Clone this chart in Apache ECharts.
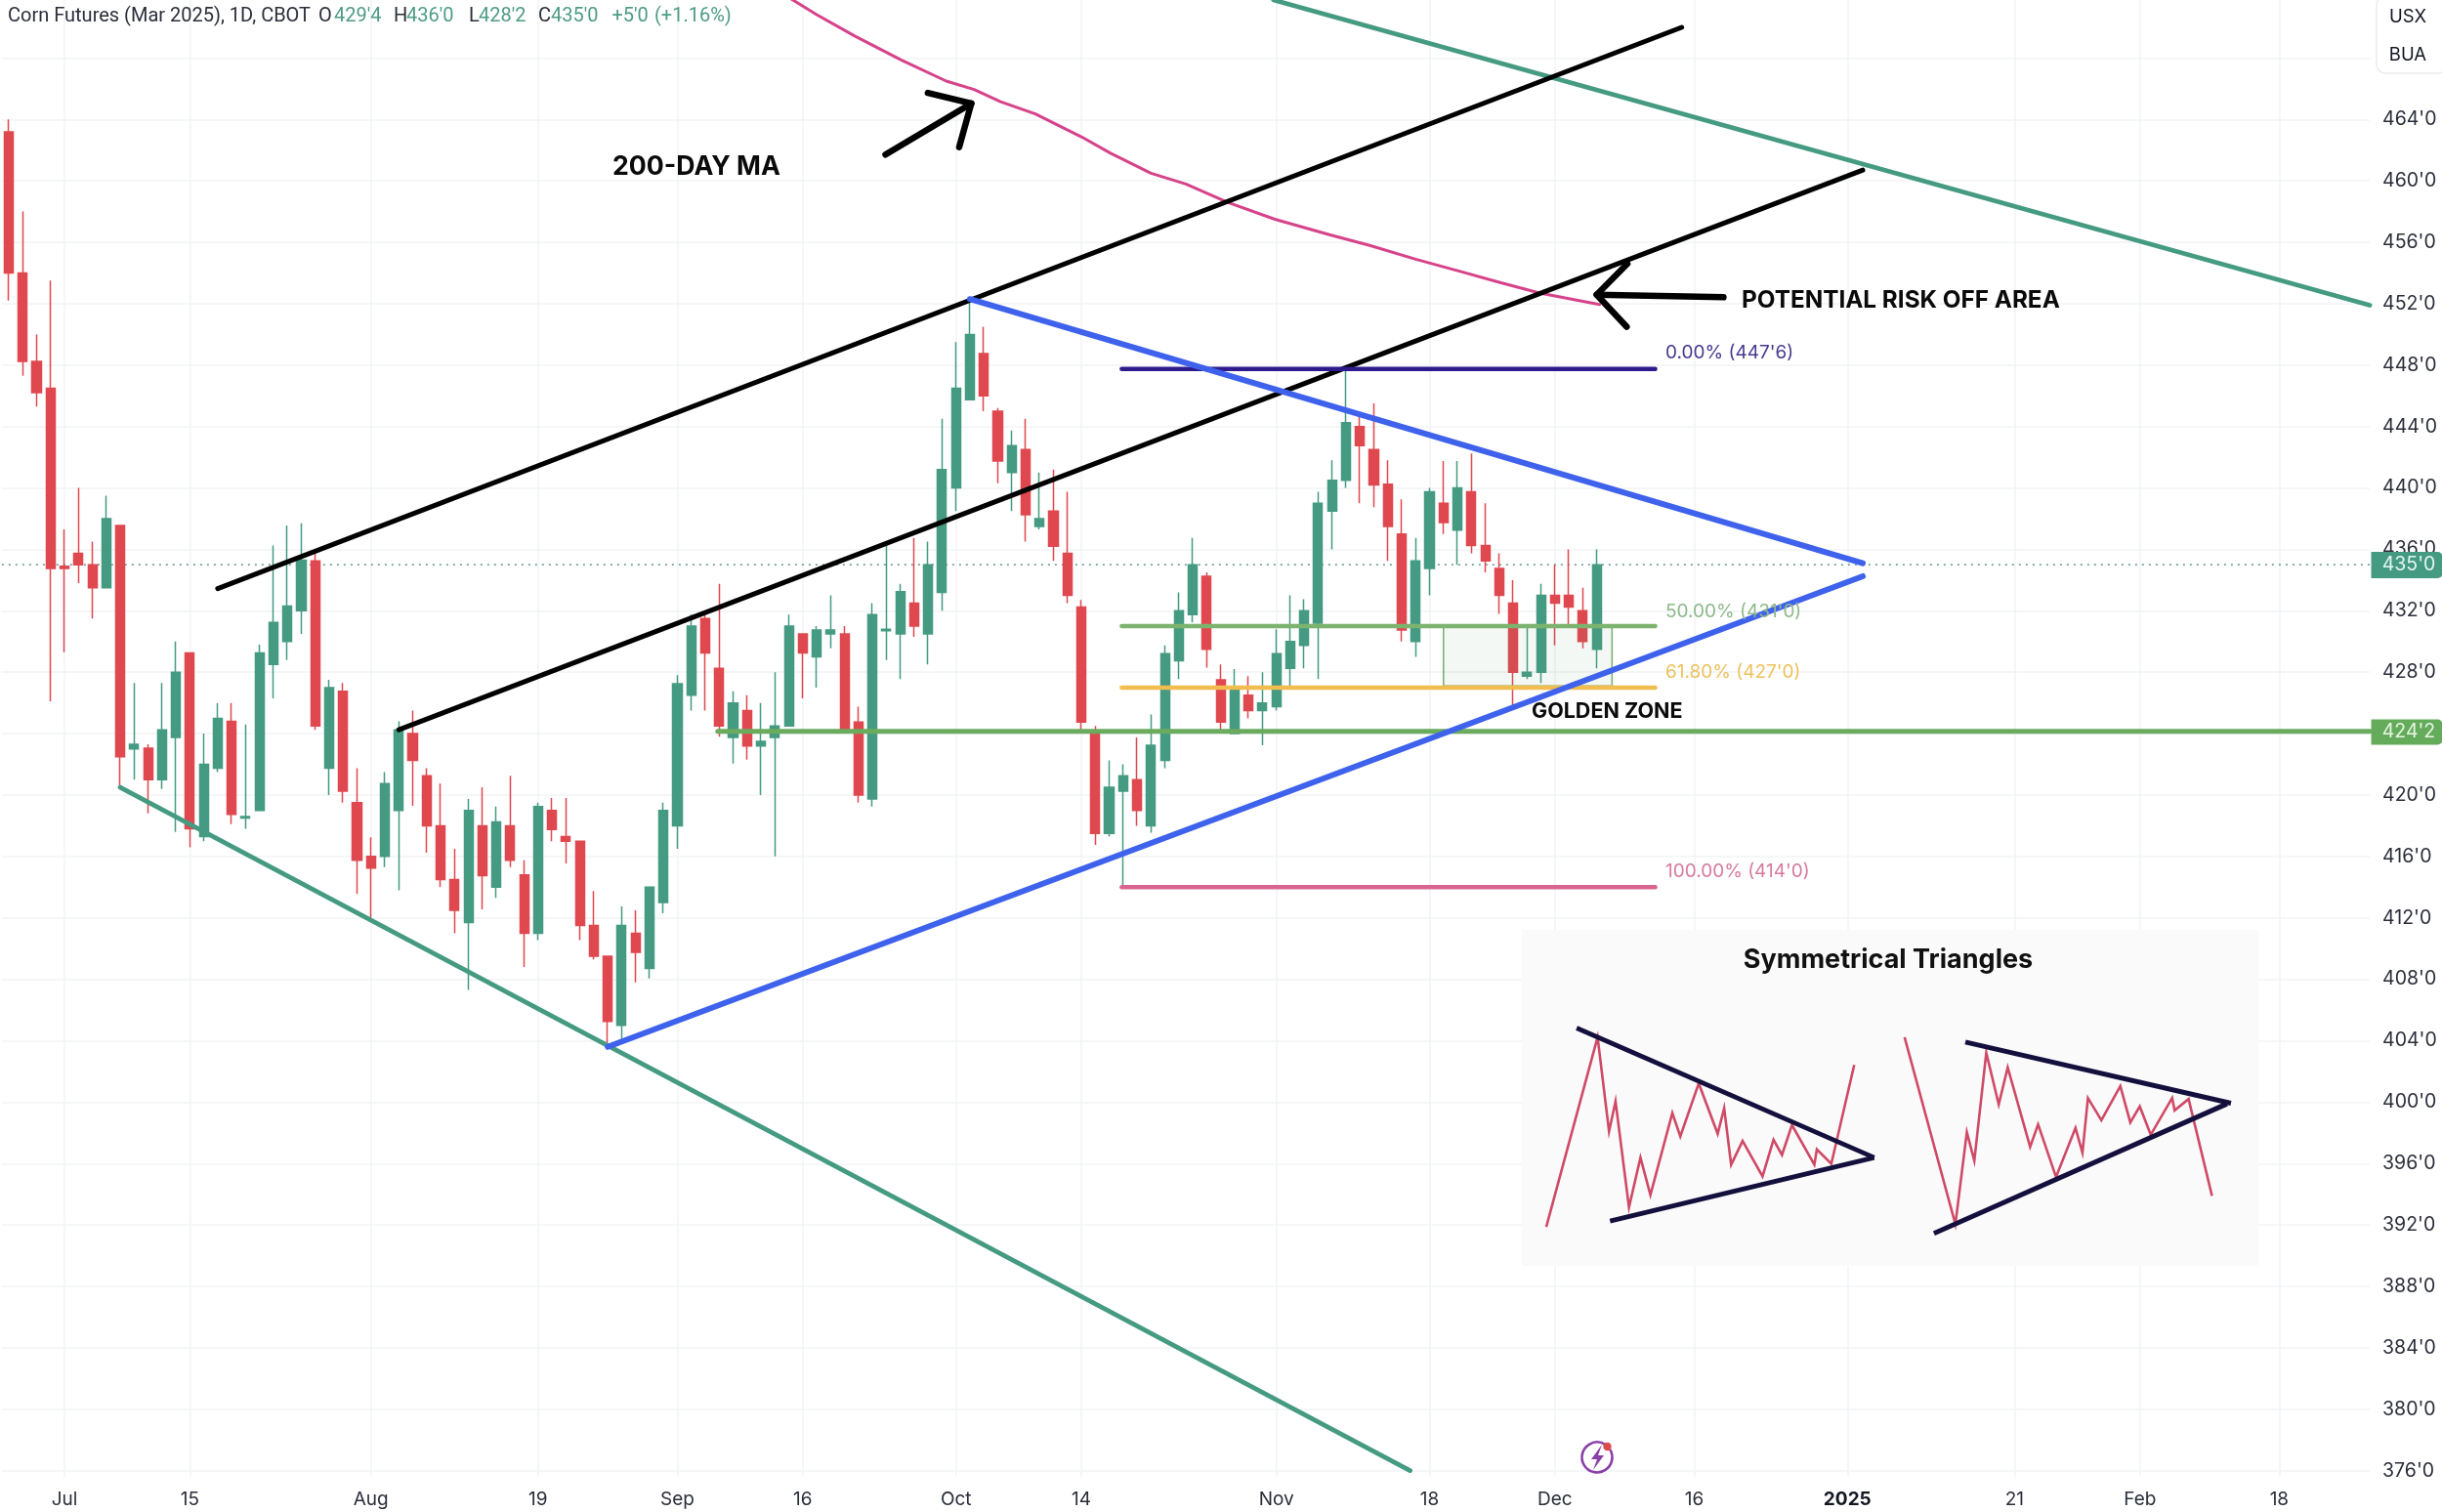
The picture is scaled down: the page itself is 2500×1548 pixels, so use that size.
<!DOCTYPE html>
<html><head><meta charset="utf-8">
<style>html,body{margin:0;padding:0;background:#fff}#c{width:2500px;height:1548px}</style>
<script src="https://cdn.jsdelivr.net/npm/echarts@6/dist/echarts.min.js"></script>
</head><body><div id="c"></div>
<script>
// ---- candles, one entry per trading bar ----
const opens=[463.2,454,448.25,446.5,434.9,435.75,435,433.5,437.55,423,423.05,421,423.75,429.25,417.3,421.75,424.8,418.5,419,428.5,430,432,435.25,421.75,426.75,419.5,416,416,419,424,421.25,418,414.5,411.7,418,414,418,414.8,411,419,417.3,417,411.5,409.5,405,411,408.7,413,418,426.5,431.5,428.25,423.75,425.5,423.2,423.75,424.5,430.5,429,430.5,430.5,424.75,419.75,430.7,430.5,432.5,430.5,433.2,440,445.75,448.75,445,441,442.5,437.5,438.5,435.75,432.25,424,417.5,420.25,421,418,422.25,428.75,431.75,434.25,427.5,424,426.5,425.5,425.75,428.25,429.75,431.2,438.5,440.5,444,442.5,440.25,437,430,434.75,439,437.25,439.75,436.25,434.75,432.5,427.75,428,433,433,432,429.5];
const closes=[454,448.25,446.2,434.75,434.75,435,433.5,438,422.5,423.3,421,424.25,428,417.8,422,425,418.75,418.6,429.25,431.25,432.3,435.3,424.5,427,420.25,415.75,415.25,420.75,424.25,422.25,418,414.5,412.5,419,414.75,418.25,415.75,411,419.25,417.75,417,411.5,409.5,405.25,411.5,409.75,414,419,427.25,431,429.25,424.5,426,423.2,423.5,424.5,431,429.25,430.75,430.75,424.2,420,431.75,430.8,433.25,431,435,441.2,446.5,450,446,441.75,442.75,438.25,438,436.2,433,424.75,417.5,420.5,421.25,419,423.25,429.2,432,435,429.5,424.75,427,425.5,426,429.2,430,432,439,440.5,444.25,442.75,440.2,437.5,430.75,435.25,439.75,437.75,440,436.25,435.25,433,428,428,433,432.5,432.25,430,435];
const highs=[464,458,450,453.5,437.3,440,436.5,439.5,437.55,427.3,423.3,427.3,430,429.25,424,426,426,424.6,429.8,436.25,437.55,437.7,435.75,427.5,427.3,421.75,417.25,421.5,424.8,425.5,421.75,420.75,416.5,419.75,420.5,419.25,421.25,415.75,419.5,419.8,419.8,417,413.75,409.5,412.75,412.5,414,419.5,427.8,431.75,431.75,433.75,426.75,426.5,426,428,431.75,430.5,431,433,431,425.75,432.5,436.5,433.75,436.75,436.5,444.5,449.5,452.3,450.5,445.2,443.75,444.5,441,441.2,439.75,432.7,424.5,422.25,422,423.75,425.25,429.75,433.2,436.75,434.5,428.5,428.2,427.75,428,430.8,433,432.75,439.75,441.8,447.75,445,445.5,441.8,439.25,436.75,440,441.75,441.75,442.25,439,435.75,434,430.9,433.75,435,436,433.5,436];
const lows=[452.2,447.3,445.3,426.1,429.3,433.8,431.5,433.5,420.5,421,418.8,420.4,417.6,416.6,417,421.5,418.1,417.8,419,426.3,428.8,430.5,424.25,420,419.5,413.55,412,415.3,413.8,419.3,416.25,414,411,407.3,412.55,413.3,415.3,408.8,410.55,417,415.55,410.55,409.3,403.5,404.1,407.8,408.05,412.3,416.5,425.5,425.5,423.8,422.05,422.3,420,416,424.5,426.3,427,429.55,424.2,419.5,419.25,428.8,427.55,430.3,428.5,432,438.5,445.75,445,440.3,438.5,436.5,437.3,435.25,432.5,424.25,416.75,417.3,414,418,417.55,421.75,427.55,431.25,428.3,424.25,424,425,423.25,425.5,427,428.25,427.55,436,440,439,438.75,435.25,430,429,433,437,435,435.75,434.5,431.8,425.6,427.55,427.3,429.75,430.9,429.55,428.25];

// ---- axis ticks ----
const barCount=170;
const timeTickBars=[4,13,26,38,48,57,68,77,91,102,111,121,132,144,153,163];
const timeTickLabels=['Jul','15','Aug','19','Sep','16','Oct','14','Nov','18','Dec','16','2025','21','Feb','18'];
const priceMin=376, priceMax=472, priceStep=4;

// ---- price levels ----
const lastPrice=435;
const fibStart=79.9, fibEnd=118.2;
const fib0=447.75, fib50=431, fib618=427, fib100=414;
const supportPrice=424.15;
const chartEnd=169.5;

// ---- drawn lines as [bar, price] ----
const tealUpper=[[90.8,471.78],[169.5,451.9]];
const tealLower=[[8,420.5],[100.6,376]];
const blackUpper=[[15,433.45],[120.1,470]];
const blackLower=[[28,424.25],[133.1,460.7]];
const blueLower=[[43,403.6],[133.1,434.25]];
const blueUpper=[[69,452.3],[133.1,435.1]];
const ma200=[[55.9,472],[58,470.83],[60.7,469.45],[64.1,467.86],[67.3,466.5],[69.3,465.95],[71.2,465.16],[73.7,464.36],[77,462.87],[79.1,461.8],[82,460.5],[84.5,459.8],[87.5,458.6],[90.9,457.5],[94.8,456.5],[97.7,455.8],[101,454.9],[104.2,454.1],[107,453.4],[109.9,452.7],[114.2,451.95]];
const arrowUpShaft=[[62.94,461.71],[69.1,465.04]];
const arrowUpHead=[[65.98,465.73],[69.1,465.04],[68.23,462.2]];
const arrowLeftShaft=[[123.1,452.42],[114,452.59]];
const arrowLeftHead=[[116.2,454.6],[114,452.59],[116.15,450.5]];
const zoneBox=[[103,431],[115.1,427.1]];

// ---- inset picture, in its own units ----
const insetLeftTop=[[145,337],[742,735]];
const insetLeftBottom=[[212,930],[742,735]];
const insetLeftPath=[[84,948],[187,365],[210,655],[223,562],[250,888],[273,735],[293,850],[337,598],[353,670],[390,507],[428,662],[441,583],[455,757],[478,684],[518,793],[540,680],[557,727],[577,635],[622,757],[627,710],[656,754],[702,450]];
const insetRightTop=[[925,380],[1458,568]];
const insetRightBottom=[[862,968],[1450,570]];
const insetRightPath=[[803,365],[905,940],[928,657],[943,745],[967,413],[992,572],[1010,458],[1055,702],[1071,633],[1107,795],[1146,644],[1160,720],[1171,552],[1198,620],[1236,515],[1256,627],[1275,578],[1297,665],[1340,552],[1345,590],[1373,555],[1420,853]];

const UP='#459a82', DOWN='#e0484f', GRID='#f1f3f6', BLUE='#3f62ec', TEAL='#459a82';
const FONT='Inter';
const cats=Array.from({length:barCount},(_,i)=>String(i));
const candles=opens.map((o,i)=>[o,closes[i],lows[i],highs[i]]);
const isTick=i=>timeTickBars.indexOf(i)>=0;

function ln(data,color,width,extra){
  return Object.assign({type:'line',xAxisIndex:1,yAxisIndex:0,data,showSymbol:false,symbol:'none',silent:true,animation:false,
    lineStyle:{color,width,cap:'round',join:'round'},z:3},extra||{});
}
function inset(data,color,width){
  return {type:'line',xAxisIndex:2,yAxisIndex:1,data,showSymbol:false,symbol:'none',silent:true,animation:false,
    lineStyle:{color,width,cap:'butt',join:'miter'},z:4};
}
function txt(x,y,text,font,fill,align){
  return {type:'text',x,y,z:10,silent:true,style:{text,font,fill,align:align||'left',verticalAlign:'middle'}};
}
const H=`20px Roboto`, HK='#2a2e39', HV='#4f9c86';
const g=[
 {type:'rect',z:1,silent:true,shape:{x:1558,y:952,width:754,height:344},style:{fill:'#fafafb'}},
 txt(1933,983,'Symmetrical Triangles',`bold 27px ${FONT}`,'#111','center'),
 txt(8,17,'Corn Futures (Mar 2025), 1D, CBOT',H,HK),
 txt(326,17,'O',H,HK),txt(342,17,"429'4",H,HV),
 txt(403,17,'H',H,HK),txt(416,17,"436'0",H,HV),
 txt(480,17,'L',H,HK),txt(490,17,"428'2",H,HV),
 txt(551,17,'C',H,HK),txt(564,17,"435'0",H,HV),
 txt(626.5,17,"+5'0",H,HV),txt(670,17,'(+1.16%)',H,HV),
 txt(627,170.5,'200-DAY MA',`bold 26.7px ${FONT}`,'#0a0a0a'),
 txt(1783,307.5,'POTENTIAL RISK OFF AREA',`bold 24.3px ${FONT}`,'#0a0a0a'),
 txt(1568,729,'GOLDEN ZONE',`bold 21.5px ${FONT}`,'#0a0a0a'),
 txt(1705,361,"0.00% (447'6)",`19px ${FONT}`,'#463b8f'),
 txt(1705,626,"50.00% (431'0)",`19px ${FONT}`,'#8fb98a'),
 txt(1705,688,"61.80% (427'0)",`19px ${FONT}`,'#edc25f'),
 txt(1705,892,"100.00% (414'0)",`19px ${FONT}`,'#d67b9e'),
 {type:'rect',z:9,silent:true,shape:{x:2433,y:-4,width:72,height:79,r:9},style:{fill:'#fff',stroke:'#ececec',lineWidth:1.5}},
 txt(2465,17,'USX',`18.5px ${FONT}`,'#131722','center'),
 txt(2465,56,'BUA',`18.5px ${FONT}`,'#131722','center'),
 {type:'rect',z:9,silent:true,shape:{x:2427.5,y:565,width:73,height:27,r:[0,5,5,0]},style:{fill:UP}},
 txt(2466,578.5,"435'0",`19.5px ${FONT}`,'#e3f6f0','center'),
 {type:'rect',z:9,silent:true,shape:{x:2427.5,y:736.5,width:73,height:26,r:[0,5,5,0]},style:{fill:'#65ab5c'}},
 txt(2466,749.5,"424'2",`19.5px ${FONT}`,'#e6f5e2','center'),
 {type:'arc',z:9,silent:true,shape:{cx:1635,cy:1492,r:15.5,startAngle:-0.55,endAngle:-1.0,clockwise:true},style:{stroke:'#8a3fa6',lineWidth:2.6,fill:'none'}},
 {type:'polygon',z:9,silent:true,shape:{points:[[1640,1479],[1629,1494],[1635,1494],[1631,1505],[1642,1490],[1636,1490]]},style:{fill:'#8a3fa6'}},
 {type:'circle',z:10,silent:true,shape:{cx:1645.5,cy:1481,r:4.2},style:{fill:'#dc4a4a'}}
];

const chart=echarts.init(document.getElementById('c'),null,{renderer:'canvas',width:2500,height:1548});
chart.setOption({
 animation:false,
 backgroundColor:'#fff',
 textStyle:{fontFamily:FONT},
 grid:[
  {left:1.87,top:-3.46,width:2424.2,height:1509.12,containLabel:false,outerBoundsMode:'none'},
  {left:1558,top:952,width:754,height:344,outerBoundsMode:'none'}
 ],
 xAxis:[
  {type:'category',gridIndex:0,data:cats,boundaryGap:true,
   axisLine:{show:false},
   axisTick:{show:true,alignWithLabel:true,length:6.3,interval:(i)=>isTick(i),lineStyle:{color:GRID,width:1.5}},
   axisLabel:{interval:(i)=>isTick(i),margin:20,color:'#2a2e39',fontSize:19,fontFamily:FONT,hideOverlap:false,
     formatter:(v)=>{const k=timeTickBars.indexOf(+v);if(k<0)return '';const s=timeTickLabels[k];return s==='2025'?'{b|2025}':s;},
     rich:{b:{fontWeight:'bold',fontSize:19,fontFamily:FONT,color:'#131722'}}},
   splitLine:{show:true,alignWithLabel:true,interval:(i)=>isTick(i),lineStyle:{color:GRID,width:1.5}}},
  {type:'value',gridIndex:0,min:-0.5,max:barCount-0.5,show:false,splitLine:{show:false}},
  {type:'value',gridIndex:1,min:35,max:1513,show:false,splitLine:{show:false}}
 ],
 yAxis:[
  {type:'value',gridIndex:0,position:'right',min:priceMin,max:priceMax,interval:priceStep,
   axisLine:{show:false},axisTick:{show:false},
   axisLabel:{margin:13,padding:[3,0,0,0],color:'#2a2e39',fontSize:19.5,fontFamily:FONT,formatter:(v)=>v+"'0"},
   splitLine:{show:true,lineStyle:{color:GRID,width:1.5}}},
  {type:'value',gridIndex:1,min:35,max:1068,inverse:true,show:false,splitLine:{show:false}}
 ],
 series:[
  {type:'candlestick',xAxisIndex:0,yAxisIndex:0,data:candles,barWidth:9.6,silent:true,z:2,
   itemStyle:{color:UP,color0:DOWN,borderColor:UP,borderColor0:DOWN,borderWidth:1.5,borderColorDoji:UP}},
  ln([[-0.5,lastPrice],[chartEnd,lastPrice]],'#3f7f70',1.3,{lineStyle:{color:'#3f7f70',width:1.3,type:[2,5]},z:2}),
  ln(ma200,'#d6438a',3),
  ln(tealUpper,TEAL,4.8),
  ln(tealLower,TEAL,4.8),
  ln(blackUpper,'#000',5),
  ln(blackLower,'#000',5),
  ln([[50.9,supportPrice],[chartEnd,supportPrice]],'#6aab5e',5),
  ln([],'#fff',0,{markArea:{silent:true,z:3,itemStyle:{color:'rgba(90,160,110,0.07)',borderColor:'#7fb076',borderWidth:1.6},
     data:[[{xAxis:zoneBox[0][0],yAxis:zoneBox[0][1]},{xAxis:zoneBox[1][0],yAxis:zoneBox[1][1]}]]}}),
  ln([[fibStart,fib0],[fibEnd,fib0]],'#2e1a8c',4.5),
  ln([[fibStart,fib50],[fibEnd,fib50]],'#7cb46f',4.5),
  ln([[fibStart,fib618],[fibEnd,fib618]],'#f2bd4e',4.5),
  ln([[fibStart,fib100],[fibEnd,fib100]],'#d9648f',4.5),
  ln(blueUpper,BLUE,6),
  ln(blueLower,BLUE,6),
  ln(arrowUpShaft,'#000',6.5),ln(arrowUpHead,'#000',6.5),
  ln(arrowLeftShaft,'#000',6.5),ln(arrowLeftHead,'#000',6.5),
  inset(insetLeftPath,'#cf4a66',2.6),inset(insetRightPath,'#cf4a66',2.6),
  inset(insetLeftTop,'#14103d',4.8),inset(insetLeftBottom,'#14103d',4.8),
  inset(insetRightTop,'#14103d',5),inset(insetRightBottom,'#14103d',5)
 ],
 graphic:{elements:g}
});
</script></body></html>
